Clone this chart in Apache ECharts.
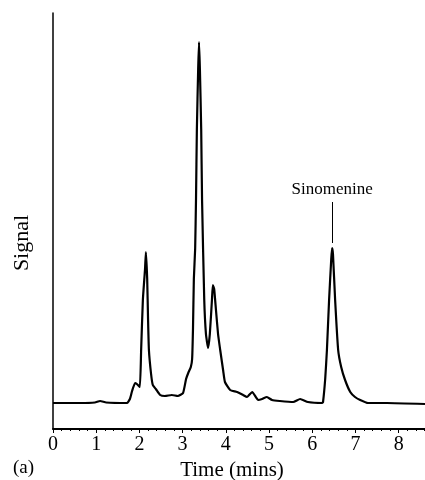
<!DOCTYPE html>
<html>
<head>
<meta charset="utf-8">
<script src="https://cdn.jsdelivr.net/npm/echarts@6/dist/echarts.min.js"></script>
<style>
html, body { margin: 0; padding: 0; background: #fff; }
#chart { width: 425px; height: 480px; }
</style>
</head>
<body>
<div id="chart"></div>
<script>
// retention time (mins) and detector signal (arbitrary units)
const times = [0, 0.63, 0.97, 1.09, 1.23, 1.71, 1.78, 1.83, 1.90, 1.94, 2.01, 2.04, 2.08, 2.13, 2.15, 2.18, 2.20, 2.22, 2.27, 2.31,
	2.38, 2.48, 2.59, 2.75, 2.89, 3.01, 3.08, 3.13, 3.19, 3.22, 3.24, 3.26, 3.29, 3.31, 3.33, 3.36, 3.38, 3.40, 3.43, 3.45,
	3.50, 3.54, 3.59, 3.63, 3.68, 3.70, 3.73, 3.77, 3.82, 3.87, 3.94, 3.98, 4.10, 4.26, 4.40, 4.49, 4.61, 4.75, 4.84, 4.95,
	5.07, 5.25, 5.56, 5.72, 5.90, 6.23, 6.25, 6.30, 6.34, 6.39, 6.44, 6.46, 6.48, 6.53, 6.60, 6.67, 6.76, 6.88, 6.99, 7.11,
	7.29, 7.73, 8.61];
const signal = [26, 26, 26.5, 28, 26.5, 26, 30, 38, 46, 45, 42, 79, 129, 160, 177, 150, 110, 79, 55, 44,
	40, 34, 33, 34, 33, 36, 50, 56, 62, 70, 100, 150, 180, 230, 300, 360, 387, 360, 300, 229,
	130, 95, 81, 95, 130, 144, 140, 120, 95, 79, 58, 47, 39, 37, 34, 32, 37, 29, 30, 32,
	29, 28, 27, 30, 27, 26, 27, 50, 79, 129, 170, 181, 175, 129, 79, 62, 49, 37, 32, 29,
	26, 26, 25];
const xTicks = [0, 1, 2, 3, 4, 5, 6, 7, 8];
const peakName = 'Sinomenine';
const peakTime = 6.46;

let chart = echarts.init(document.getElementById('chart'));
let peakIdx = times.indexOf(peakTime);
let peakVal = signal[peakIdx];
let serif = 'Liberation Serif';

let option = {
	animation: false,
	grid: {
		left: 53,
		top: 13,
		right: 0,
		bottom: 51
	},
	xAxis: {
		type: 'value',
		min: 0,
		max: 8.61,
		interval: 1,
		axisLine: {
			onZero: false,
			lineStyle: { color: '#000', width: 2 }
		},
		axisTick: {
			show: true,
			length: 4,
			lineStyle: { color: '#000', width: 1 }
		},
		minorTick: {
			show: true,
			splitNumber: 5,
			length: 2,
			lineStyle: { color: '#000', width: 1 }
		},
		splitLine: { show: false },
		axisLabel: {
			color: '#000',
			fontFamily: serif,
			fontSize: 20,
			margin: 6,
			showMaxLabel: false,
			formatter: v => xTicks.includes(v) ? String(v) : ''
		}
	},
	yAxis: {
		type: 'value',
		min: 0,
		max: 416,
		axisLine: {
			show: true,
			lineStyle: { color: '#000', width: 1.5 }
		},
		axisTick: { show: false },
		axisLabel: { show: false },
		splitLine: { show: false }
	},
	graphic: [
		{
			type: 'text',
			rotation: Math.PI / 2,
			style: {
				text: 'Signal',
				font: '22px "Liberation Serif"',
				fill: '#000',
				align: 'center',
				verticalAlign: 'middle'
			},
			x: 22,
			y: 243
		},
		{
			type: 'text',
			x: 232,
			y: 470,
			style: {
				text: 'Time (mins)',
				font: '21px "Liberation Serif"',
				fill: '#000',
				align: 'center',
				verticalAlign: 'middle'
			}
		},
		{
			type: 'text',
			x: 13,
			y: 468,
			style: {
				text: '(a)',
				font: '19px "Liberation Serif"',
				fill: '#000',
				align: 'left',
				verticalAlign: 'middle'
			}
		}
	],
	series: [{
		type: 'line',
		data: times.map((t, i) => [t, signal[i]]),
		showSymbol: false,
		smooth: 0.15,
		lineStyle: { color: '#000', width: 2.2 },
		markLine: {
			silent: true,
			symbol: ['none', 'none'],
			lineStyle: { color: '#000', width: 1, type: 'solid' },
			label: {
				show: true,
				position: 'end',
				formatter: peakName,
				color: '#000',
				fontFamily: serif,
				fontSize: 17,
				distance: 4
			},
			data: [[
				{ coord: [peakTime, peakVal + 5] },
				{ coord: [peakTime, peakVal + 46] }
			]]
		}
	}]
};
chart.setOption(option);
</script>
</body>
</html>
